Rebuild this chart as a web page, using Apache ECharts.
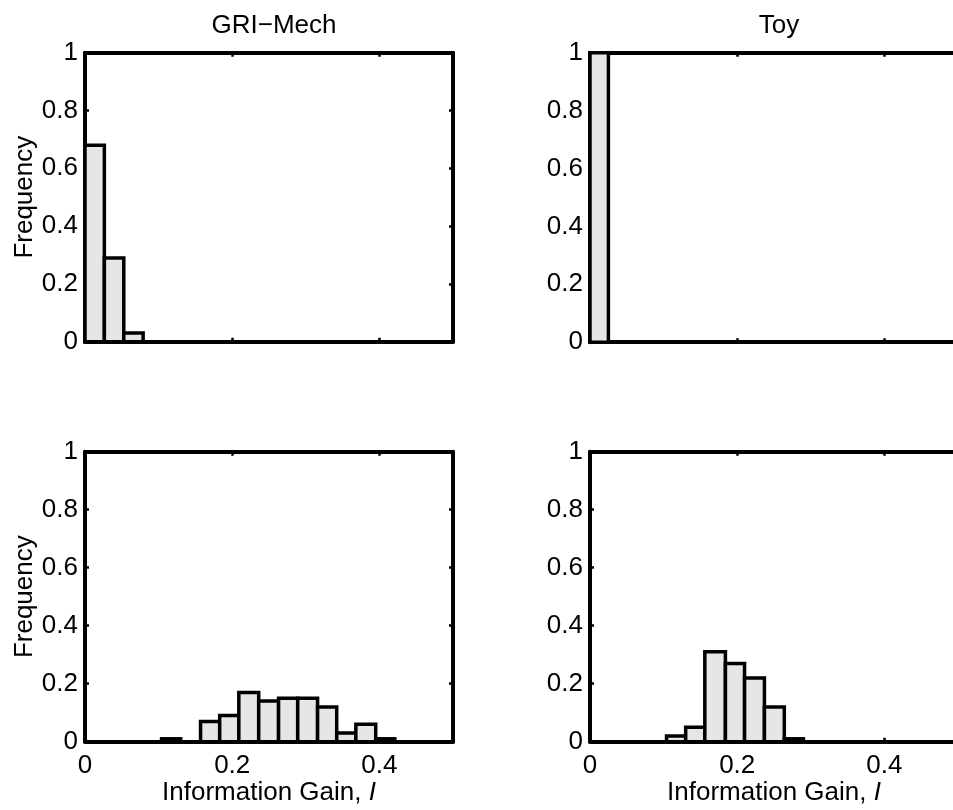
<!DOCTYPE html>
<html>
<head>
<meta charset="utf-8">
<script src="https://cdn.jsdelivr.net/npm/echarts@6/dist/echarts.min.js"></script>
<style>
  html, body { margin: 0; padding: 0; background: #fff; }
  #main { width: 953px; height: 810px; }
</style>
</head>
<body>
<div id="main"></div>
<script>
// histogram bin edges and frequencies
const griTopEdges = [0, 0.0263, 0.0527, 0.079];
const griTopFreq = [0.68, 0.29, 0.03];
const toyTopEdges = [0, 0.025];
const toyTopFreq = [1.0];
const griBotEdges = [0.104, 0.130, 0.157, 0.183, 0.209, 0.236, 0.263, 0.289, 0.316, 0.342, 0.368, 0.395, 0.421];
const griBotFreq = [0.01, 0, 0.07, 0.09, 0.17, 0.14, 0.15, 0.15, 0.12, 0.03, 0.06, 0.01];
const toyBotEdges = [0.104, 0.130, 0.156, 0.184, 0.210, 0.237, 0.264, 0.290];
const toyBotFreq = [0.02, 0.05, 0.31, 0.27, 0.22, 0.12, 0.01];

const titles = ["GRI\u2212Mech", "Toy"];

const FONT = "'Liberation Sans', Arial, sans-serif";
const FS = 26;

const panels = [
  { edges: griTopEdges, freq: griTopFreq, left: 85, top: 52.7, height: 289, xLabels: false, yName: "Frequency" },
  { edges: toyTopEdges, freq: toyTopFreq, left: 590, top: 52.7, height: 289.5, xLabels: false, yName: "" },
  { edges: griBotEdges, freq: griBotFreq, left: 85, top: 451.7, height: 290, xLabels: true, yName: "Frequency" },
  { edges: toyBotEdges, freq: toyBotFreq, left: 590, top: 451.7, height: 290, xLabels: true, yName: "" }
];

const chart = echarts.init(document.getElementById("main"), null, { renderer: "canvas" });

const grid = [], xAxis = [], yAxis = [], series = [];
const lineStyle = { color: "#000", width: 4 };
const tickStyle = { show: true, inside: true, length: 4, lineStyle: { color: "#000", width: 2.5 } };

panels.forEach((p, i) => {
  grid.push({ left: p.left, top: p.top, width: 368, height: p.height, show: false, outerBoundsMode: "none", containLabel: false });
  // bottom x axis
  xAxis.push({
    type: "value", gridIndex: i, min: 0, max: 0.5, interval: 0.2, position: "bottom",
    axisLine: { show: true, onZero: false, lineStyle },
    axisTick: tickStyle,
    splitLine: { show: false },
    axisLabel: { show: p.xLabels, showMaxLabel: false, color: "#000", fontSize: FS, fontFamily: FONT, margin: 11 },
    name: p.xLabels ? "Information Gain, {i|I}" : "",
    nameLocation: "middle", nameGap: 37,
    nameTextStyle: { color: "#000", fontSize: FS, fontFamily: FONT, rich: { i: { fontStyle: "italic", fontSize: FS, fontFamily: FONT, color: "#000" } } }
  });
  // mirror top x axis
  xAxis.push({
    type: "value", gridIndex: i, min: 0, max: 0.5, interval: 0.2, position: "top",
    axisLine: { show: true, onZero: false, lineStyle },
    axisTick: tickStyle, splitLine: { show: false }, axisLabel: { show: false }
  });
  yAxis.push({
    type: "value", gridIndex: i, min: 0, max: 1, interval: 0.2, position: "left",
    axisLine: { show: true, onZero: false, lineStyle },
    axisTick: tickStyle, splitLine: { show: false },
    axisLabel: { color: "#000", fontSize: FS, fontFamily: FONT, margin: 7 },
    name: p.yName, nameLocation: "middle", nameGap: 47,
    nameTextStyle: { color: "#000", fontSize: FS, fontFamily: FONT }
  });
  yAxis.push({
    type: "value", gridIndex: i, min: 0, max: 1, interval: 0.2, position: "right",
    axisLine: { show: true, onZero: false, lineStyle },
    axisTick: tickStyle, splitLine: { show: false }, axisLabel: { show: false }
  });

  const data = p.freq.map((f, k) => [p.edges[k], p.edges[k + 1], f]);
  series.push({
    type: "custom",
    xAxisIndex: i * 2,
    yAxisIndex: i * 2,
    data: data,
    encode: { x: [0, 1], y: 2 },
    z: 1,
    renderItem: function (params, api) {
      const a = api.coord([api.value(0), api.value(2)]);
      const b = api.coord([api.value(1), 0]);
      return {
        type: "rect",
        shape: { x: a[0], y: a[1], width: b[0] - a[0], height: b[1] - a[1] },
        style: { fill: "#e6e6e6", stroke: "#000", lineWidth: 3.5 }
      };
    }
  });
});

chart.setOption({
  animation: false,
  backgroundColor: "#fff",
  title: [
    { text: titles[0], left: 269, top: 8, textAlign: "center", textStyle: { color: "#000", fontSize: FS, fontWeight: "normal", fontFamily: FONT } },
    { text: titles[1], left: 774, top: 8, textAlign: "center", textStyle: { color: "#000", fontSize: FS, fontWeight: "normal", fontFamily: FONT } }
  ],
  grid, xAxis, yAxis, series
});
</script>
</body>
</html>
